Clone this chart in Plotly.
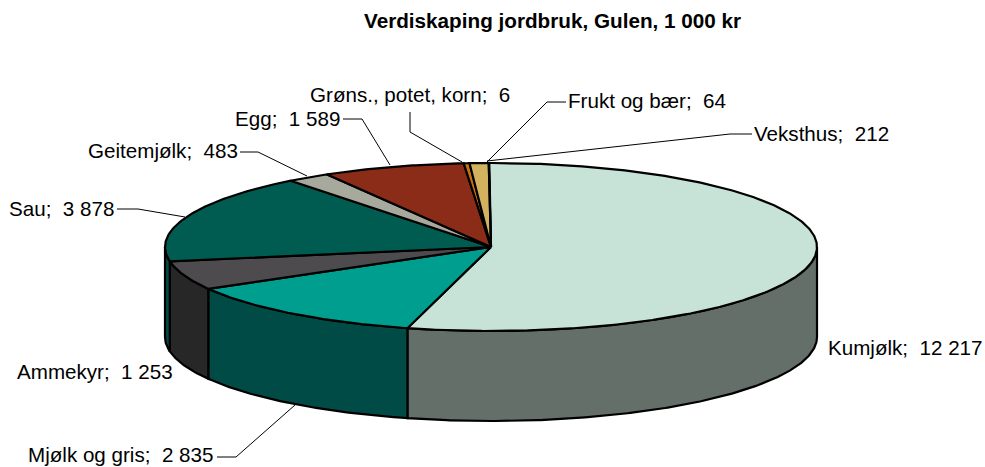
import math
import plotly.graph_objects as go

# Slices in drawing order, clockwise from 12 o'clock
categories = ["Kumjølk", "Mjølk og gris", "Ammekyr", "Sau", "Geitemjølk", "Egg",
              "Frukt og bær", "Veksthus", "Grøns., potet, korn"]
values = [12217, 2835, 1253, 3878, 483, 1589, 64, 212, 6]
value_text = ["12 217", "2 835", "1 253", "3 878", "483", "1 589", "64", "212", "6"]
top_colors = ["#c7e3d8", "#009e8f", "#4d4b4e", "#005c50", "#a6a99c", "#8b2c18",
              "#c8700c", "#d2b25f", "#005c50"]
side_colors = ["#646f6a", "#004b45", "#272727", "#004b45", "#53544e", "#46160c",
               "#643806", "#695930", "#004b45"]

TITLE = "Verdiskaping jordbruk, Gulen, 1 000 kr"
CX, CY, RX, RY, DEPTH = 491, 247, 326, 84, 90
START = -0.3
FONT = "Liberation Sans, Arial, sans-serif"
TEXT_SIZE = 20.6

# label anchor: x, y, xanchor
label_pos = {
    "Kumjølk": (826, 347, "left"),
    "Mjølk og gris": (215, 454.5, "right"),
    "Ammekyr": (175, 371, "right"),
    "Sau": (116, 208, "right"),
    "Geitemjølk": (240, 150, "right"),
    "Egg": (342, 118, "right"),
    "Grøns., potet, korn": (512, 94, "right"),
    "Frukt og bær": (566, 100, "left"),
    "Veksthus": (752, 133, "left"),
}
leaders = {
    "Mjølk og gris": [(217, 457), (236, 457), (295, 405)],
    "Sau": [(117, 209), (138, 209), (185, 217)],
    "Geitemjølk": [(240, 152), (258, 152), (307, 176)],
    "Egg": [(343, 119), (362, 119), (390, 165)],
    "Grøns., potet, korn": [(410, 112), (410, 132), (462, 162)],
    "Frukt og bær": [(566, 102), (547, 102), (487, 162)],
    "Veksthus": [(752, 134), (730, 134), (487, 161)],
}


def pt(deg, dy=0):
    a = math.radians(deg)
    return CX + RX * math.sin(a), CY - RY * math.cos(a) + dy


def arc(a0, a1, dy=0):
    n = max(2, int(abs(a1 - a0) * 2) + 1)
    return [pt(a0 + (a1 - a0) * i / (n - 1), dy) for i in range(n)]


total = sum(values)
edges = [START]
for v in values:
    edges.append(edges[-1] + v / total * 360)

fig = go.Figure()


def poly(points, fill):
    fig.add_trace(go.Scatter(
        x=[p[0] for p in points], y=[p[1] for p in points], mode="lines",
        fill="toself", fillcolor=fill, line=dict(color="black", width=2.2),
        hoverinfo="skip", showlegend=False))


# outer walls of the front half
for i in range(len(values)):
    a0, a1 = max(edges[i], 90), min(edges[i + 1], 270)
    if a1 > a0:
        top = arc(a0, a1)
        poly(top + arc(a1, a0, DEPTH) + [top[0]], side_colors[i])

# top faces
for i in range(len(values)):
    pts = [(CX, CY)] + arc(edges[i], edges[i + 1]) + [(CX, CY)]
    poly(pts, top_colors[i])

for name, pts in leaders.items():
    fig.add_trace(go.Scatter(
        x=[p[0] for p in pts], y=[p[1] for p in pts], mode="lines",
        line=dict(color="black", width=1), hoverinfo="skip", showlegend=False))

for name, txt in zip(categories, value_text):
    x, y, anchor = label_pos[name]
    fig.add_annotation(x=x, y=y, text=f"{name};\u00a0\u00a0{txt}", showarrow=False,
                       xanchor=anchor, yanchor="middle", xref="x", yref="y",
                       font=dict(family=FONT, size=TEXT_SIZE, color="black"))

fig.add_annotation(x=552, y=20, text=f"<b>{TITLE}</b>", showarrow=False,
                   xanchor="center", yanchor="middle",
                   font=dict(family=FONT, size=20.7, color="black"))

fig.update_layout(
    width=985, height=467, margin=dict(l=0, r=0, t=0, b=0),
    paper_bgcolor="white", plot_bgcolor="white", showlegend=False,
    xaxis=dict(range=[0, 985], visible=False, fixedrange=True),
    yaxis=dict(range=[467, 0], visible=False, fixedrange=True),
)
fig.write_html("out.html", config={"displayModeBar": False},
               post_script="document.body.style.margin='0';document.body.style.overflow='hidden';")
